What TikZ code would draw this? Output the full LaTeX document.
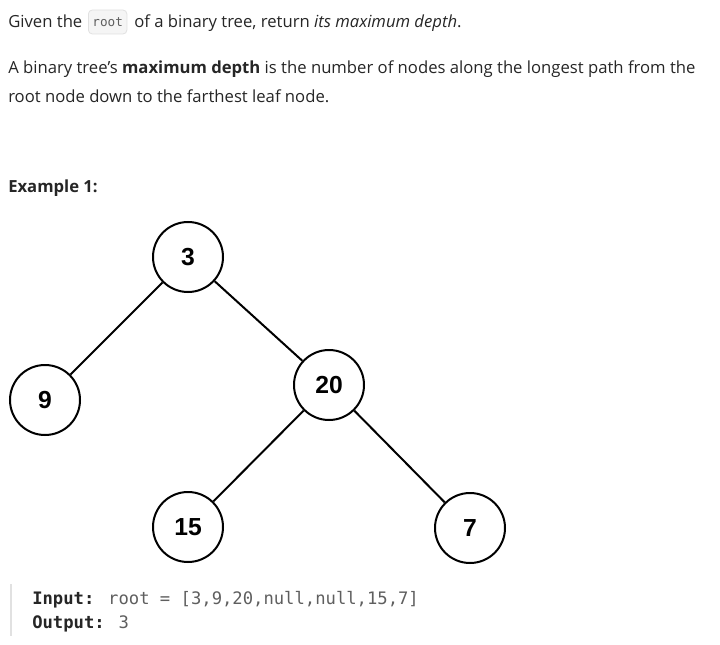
\documentclass[tikz,border=0pt]{standalone}
\usepackage{fontspec}
\setmainfont{Open Sans}
\newfontfamily\treefont{Liberation Sans}
\newfontfamily\codefont{DejaVu Sans Mono}
\definecolor{txt}{RGB}{38,38,38}
\definecolor{codegray}{RGB}{95,95,95}
\definecolor{barcol}{RGB}{225,225,225}
\definecolor{inlinebg}{RGB}{245,245,245}
\definecolor{inlineborder}{RGB}{225,225,225}
\begin{document}
\begin{tikzpicture}[x=0.75pt,y=-0.75pt,
  treenode/.style={circle,draw=black,line width=1.5pt,minimum size=52.5pt,inner sep=0pt,font=\treefont\bfseries\fontsize{18.5}{21}\selectfont,text=black,fill=white},
  edge/.style={draw=black,line width=1.5pt},
  para/.style={anchor=base west,inner sep=0pt,text=txt,font=\fontsize{12.5}{15}\selectfont},
  codeline/.style={anchor=base west,inner sep=0pt,text=codegray,font=\codefont\fontsize{12.9}{15}\selectfont}]
\useasboundingbox[fill=white] (0,0) rectangle (720,645);
% paragraph text
\node[para] (l1a) at (8,28) {Given the};
\node[draw=inlineborder,fill=inlinebg,rounded corners=3pt,line width=0.6pt,inner xsep=3pt,inner ysep=0pt,minimum height=18pt,text=codegray,font=\codefont\fontsize{9.5}{11}\selectfont,anchor=west] (rootc) at (88,22) {root};
\node[para] (l1b) at (134,28) {of a binary tree, return \textit{its maximum depth}.};
\node[para] (l2) at (8,74) {A binary tree's \textbf{maximum depth} is the number of nodes along the longest path from the};
\node[para] (l3) at (8,103) {root node down to the farthest leaf node.};
\node[para,font=\bfseries\fontsize{12.5}{15}\selectfont] (ex) at (8,193) {Example 1:};
% tree
\node[treenode] (n3) at (188,257) {3};
\node[treenode] (n9) at (45,400) {9};
\node[treenode] (n20) at (329,385) {20};
\node[treenode] (n15) at (188,527) {15};
\node[treenode] (n7) at (470,528) {7};
\draw[edge] (n3) -- (n9);
\draw[edge] (n3) -- (n20);
\draw[edge] (n20) -- (n15);
\draw[edge] (n20) -- (n7);
% code block
\coordinate (bt) at (11,584);
\coordinate (bb) at (11,636);
\draw[barcol,line width=2.2pt] (bt) -- (bb);
\node[codeline] (in) at (32,604) {\textcolor{txt}{\bfseries Input:} root = [3,9,20,null,null,15,7]};
\node[codeline] (out) at (32,628) {\textcolor{txt}{\bfseries Output:} 3};
\end{tikzpicture}
\end{document}
